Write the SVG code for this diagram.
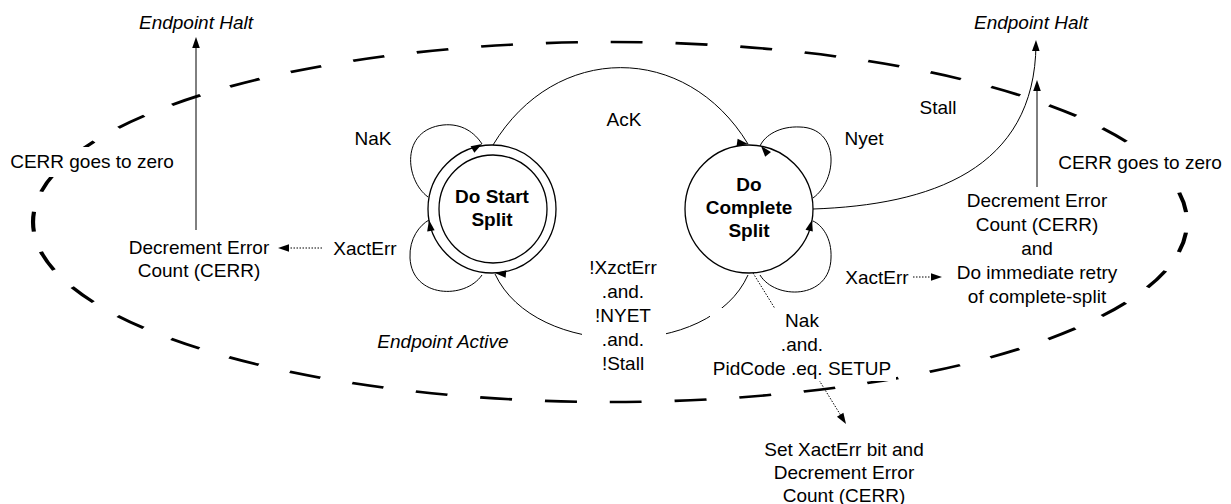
<svg xmlns="http://www.w3.org/2000/svg" xmlns:xlink="http://www.w3.org/1999/xlink" width="1231" height="504" viewBox="0 0 1231 504">
<style>
.t{font-family:"Liberation Sans",Arial,Helvetica,sans-serif;font-size:19px;fill:#000;text-anchor:middle}
.b{font-weight:bold}
.i{font-style:italic}
.ln{fill:none;stroke:#000;stroke-width:1}
.dot{fill:none;stroke:#000;stroke-width:1;stroke-dasharray:1.5 1.5}
.node{fill:#fff;stroke:#000;stroke-width:1.3}
.bg{fill:#fff;stroke:none}
</style>
<defs>
<path id="ah" d="M0,0 L-11,-3.8 L-11,3.8 Z" fill="#000"/>
</defs>
<rect width="1231" height="504" fill="#fff"/>

<g id="boundary">
<ellipse cx="0" cy="0" rx="360.6" ry="180" transform="translate(610 222) scale(1.6 1)" fill="none" stroke="#000" stroke-width="2.6" stroke-dasharray="20 20.6" stroke-dashoffset="30"/>
</g>

<g id="node-do-start-split">
<circle class="node" cx="492" cy="209" r="64"/>
<circle class="node" cx="493" cy="209" r="54"/>
<text class="t b" x="492" y="203">Do Start</text>
<text class="t b" x="492" y="226">Split</text>
</g>

<g id="node-do-complete-split">
<circle class="node" cx="749" cy="209" r="64"/>
<text class="t b" x="749" y="191">Do</text>
<text class="t b" x="749" y="214">Complete</text>
<text class="t b" x="749" y="237">Split</text>
</g>

<g id="connectors">
<!-- AcK -->
<path class="ln" d="M493,145 C555,42 686,42 748,144"/>
<use xlink:href="#ah" transform="translate(748 144) rotate(8)"/>
<!-- NaK loop -->
<path class="ln" d="M428,197 C405,180 400,130 443,125 C462,123 475,133 482,144"/>
<use xlink:href="#ah" transform="translate(482 144) rotate(-30)"/>
<!-- XactErr loop on start -->
<path class="ln" d="M482,275 C465,300 412,298 410,258 C409,238 420,225 429,220"/>
<use xlink:href="#ah" transform="translate(429 220) rotate(-100)"/>
<!-- !XzctErr return arc -->
<path class="ln" d="M748,275 C710,360 535,360 495,274"/>
<use xlink:href="#ah" transform="translate(495 273) rotate(185)"/>
<!-- Nyet loop -->
<path class="ln" d="M813,198 C838,180 840,128 800,127 C780,126 765,135 760,146"/>
<use xlink:href="#ah" transform="translate(761 146) rotate(-130)"/>
<!-- XactErr loop on complete -->
<path class="ln" d="M760,275 C775,300 830,300 831,258 C832,238 822,225 813,221"/>
<use xlink:href="#ah" transform="translate(812 220) rotate(-75)"/>
<!-- Stall -->
<path class="ln" d="M813,209 C930,205 1035,170 1036,44"/>
<use xlink:href="#ah" transform="translate(1036 40) rotate(-89)"/>
<!-- right CERR to halt -->
<path class="ln" d="M1037,187 L1037,86"/>
<use xlink:href="#ah" transform="translate(1037 80) rotate(-90)"/>
<!-- left CERR to halt -->
<path class="ln" d="M196,230 L196,44"/>
<use xlink:href="#ah" transform="translate(196 37) rotate(-90)"/>
<!-- left XactErr dotted -->
<path class="dot" d="M322,248 L284,248"/>
<use xlink:href="#ah" transform="translate(278 248) rotate(180)"/>
<!-- right XactErr dotted -->
<path class="dot" d="M913,277 L936,277"/>
<use xlink:href="#ah" transform="translate(942 277) rotate(0)"/>
<!-- Nak PidCode dotted -->
<path class="dot" d="M753,273 L843,419"/>
<use xlink:href="#ah" transform="translate(846 424) rotate(58)"/>
</g>

<g id="label-endpoint-halt-left">
<text class="t i" x="196" y="29">Endpoint Halt</text>
</g>
<g id="label-endpoint-halt-right">
<text class="t i" x="1031" y="29">Endpoint Halt</text>
</g>
<g id="label-cerr-zero-left">
<rect class="bg" x="7" y="147" width="170" height="30"/>
<text class="t" x="92" y="168">CERR goes to zero</text>
</g>
<g id="label-cerr-zero-right">
<rect class="bg" x="1055" y="146" width="170" height="32"/>
<text class="t" x="1140" y="169">CERR goes to zero</text>
</g>
<g id="label-nak">
<text class="t" x="373" y="145">NaK</text>
</g>
<g id="label-xacterr-left">
<text class="t" x="365" y="255">XactErr</text>
</g>
<g id="action-decrement-left">
<text class="t" x="199" y="254">Decrement Error</text>
<text class="t" x="199" y="277">Count (CERR)</text>
</g>
<g id="label-ack">
<text class="t" x="624" y="126">AcK</text>
</g>
<g id="label-stall">
<text class="t" x="938" y="114">Stall</text>
</g>
<g id="label-nyet">
<text class="t" x="864" y="145">Nyet</text>
</g>
<g id="label-xacterr-right">
<text class="t" x="877" y="284">XactErr</text>
</g>
<g id="action-decrement-right">
<text class="t" x="1037" y="207">Decrement Error</text>
<text class="t" x="1037" y="231">Count (CERR)</text>
<text class="t" x="1037" y="255">and</text>
<text class="t" x="1037" y="279">Do immediate retry</text>
<text class="t" x="1037" y="303">of complete-split</text>
</g>
<g id="label-return">
<rect class="bg" x="582" y="256" width="84" height="120"/>
<text class="t" x="623" y="274">!XzctErr</text>
<text class="t" x="623" y="298">.and.</text>
<text class="t" x="623" y="322">!NYET</text>
<text class="t" x="623" y="346">.and.</text>
<text class="t" x="623" y="370">!Stall</text>
</g>
<g id="label-endpoint-active">
<text class="t i" x="443" y="348">Endpoint Active</text>
</g>
<g id="label-nak-setup">
<rect class="bg" x="710" y="308" width="186" height="73"/>
<text class="t" x="802" y="327">Nak</text>
<text class="t" x="802" y="351">.and.</text>
<text class="t" x="802" y="375">PidCode .eq. SETUP</text>
</g>
<g id="action-set-xacterr">
<text class="t" x="844" y="456">Set XactErr bit and</text>
<text class="t" x="844" y="479">Decrement Error</text>
<text class="t" x="844" y="502">Count (CERR)</text>
</g>
</svg>
